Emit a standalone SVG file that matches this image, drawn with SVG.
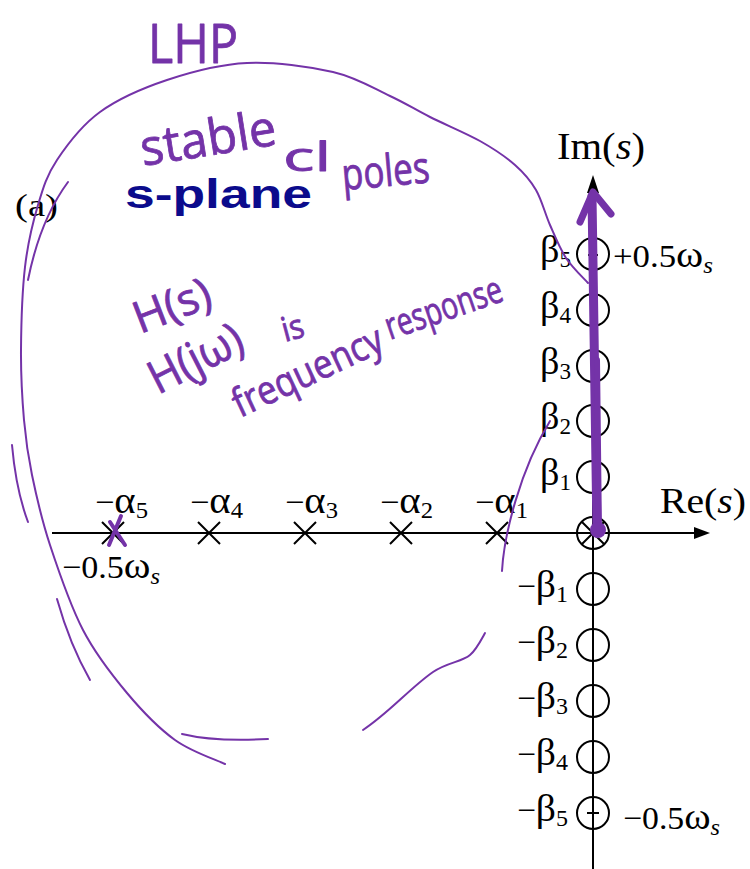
<svg xmlns="http://www.w3.org/2000/svg" width="750" height="869" viewBox="0 0 750 869">
<style>
.ax{stroke:#000;stroke-width:2;fill:none}
.ah{fill:#000;stroke:none}
.z{fill:none;stroke:#000;stroke-width:2}
.p{stroke:#000;stroke-width:2;fill:none}
.lb{font-family:"Liberation Serif","Times New Roman",serif;font-size:32px;fill:#000}
.gk{font-size:38px}
.sb{font-size:23px}
.it{font-style:italic}
.hw{font-family:"Open Sans","Noto Sans",sans-serif;fill:#7433a8;stroke:#7433a8;stroke-width:0.8;stroke-linejoin:round}
.pen{fill:none;stroke:#7433a8;stroke-width:2;stroke-linecap:round;stroke-linejoin:round}
.mk{fill:none;stroke:#7433a8;stroke-linecap:round;stroke-linejoin:round}
</style>
<rect width="750" height="869" fill="#fff"/>

<g id="axes">
  <line class="ax" x1="52" y1="533" x2="696" y2="533"/>
  <polygon class="ah" points="710,533 694,527 694,539"/>
  <line class="ax" x1="593" y1="191" x2="593" y2="869"/>
  <polygon class="ah" points="593,175 587,193 599,193"/>
</g>

<g id="poles">
  <path class="p" d="M102 522 l22 22 M124 522 l-22 22"/>
  <path class="p" d="M198 522 l22 22 M220 522 l-22 22"/>
  <path class="p" d="M294 522 l22 22 M316 522 l-22 22"/>
  <path class="p" d="M390 522 l22 22 M412 522 l-22 22"/>
  <path class="p" d="M486 522 l22 22 M508 522 l-22 22"/>
</g>

<g id="zeros">
  <circle class="z" cx="593" cy="254" r="16"/>
  <line class="ax" x1="588" y1="255" x2="598" y2="255"/>
  <circle class="z" cx="593" cy="310" r="16"/>
  <circle class="z" cx="593" cy="366" r="16"/>
  <circle class="z" cx="593" cy="421" r="16"/>
  <circle class="z" cx="593" cy="477" r="16"/>
  <circle class="z" cx="593" cy="533" r="16"/>
  <path class="p" d="M582 522 L604 544 M582 544 L604 522"/>
  <circle class="z" cx="593" cy="589" r="16"/>
  <circle class="z" cx="593" cy="645" r="16"/>
  <circle class="z" cx="593" cy="701" r="16"/>
  <circle class="z" cx="593" cy="757" r="16"/>
  <circle class="z" cx="593" cy="813" r="16"/>
  <line class="ax" x1="587" y1="813" x2="599" y2="813"/>
</g>

<g id="labels">
  <text class="lb" x="557" y="159" style="font-size:38px" textLength="88" lengthAdjust="spacingAndGlyphs">Im(<tspan class="it">s</tspan>)</text>
  <text class="lb" x="660" y="513" style="font-size:36px" textLength="86" lengthAdjust="spacingAndGlyphs">Re(<tspan class="it">s</tspan>)</text>
  <text class="lb" x="613" y="267" textLength="100" lengthAdjust="spacingAndGlyphs">+0.5<tspan class="gk">ω</tspan><tspan class="sb it" dy="6">s</tspan></text>
  <text class="lb" x="623" y="829" textLength="97" lengthAdjust="spacingAndGlyphs">−0.5<tspan class="gk">ω</tspan><tspan class="sb it" dy="6">s</tspan></text>
  <text class="lb" x="62" y="578" textLength="98" lengthAdjust="spacingAndGlyphs">−0.5<tspan class="gk">ω</tspan><tspan class="sb it" dy="6">s</tspan></text>

  <text class="lb" x="540" y="262" textLength="31" lengthAdjust="spacingAndGlyphs"><tspan class="gk">β</tspan><tspan class="sb" dy="5">5</tspan></text>
  <text class="lb" x="540" y="318" textLength="31" lengthAdjust="spacingAndGlyphs"><tspan class="gk">β</tspan><tspan class="sb" dy="5">4</tspan></text>
  <text class="lb" x="540" y="374" textLength="31" lengthAdjust="spacingAndGlyphs"><tspan class="gk">β</tspan><tspan class="sb" dy="5">3</tspan></text>
  <text class="lb" x="540" y="429" textLength="31" lengthAdjust="spacingAndGlyphs"><tspan class="gk">β</tspan><tspan class="sb" dy="5">2</tspan></text>
  <text class="lb" x="540" y="485" textLength="31" lengthAdjust="spacingAndGlyphs"><tspan class="gk">β</tspan><tspan class="sb" dy="5">1</tspan></text>

  <text class="lb" x="517" y="597" textLength="51" lengthAdjust="spacingAndGlyphs">−<tspan class="gk">β</tspan><tspan class="sb" dy="5">1</tspan></text>
  <text class="lb" x="517" y="653" textLength="51" lengthAdjust="spacingAndGlyphs">−<tspan class="gk">β</tspan><tspan class="sb" dy="5">2</tspan></text>
  <text class="lb" x="517" y="709" textLength="51" lengthAdjust="spacingAndGlyphs">−<tspan class="gk">β</tspan><tspan class="sb" dy="5">3</tspan></text>
  <text class="lb" x="517" y="765" textLength="51" lengthAdjust="spacingAndGlyphs">−<tspan class="gk">β</tspan><tspan class="sb" dy="5">4</tspan></text>
  <text class="lb" x="517" y="821" textLength="51" lengthAdjust="spacingAndGlyphs">−<tspan class="gk">β</tspan><tspan class="sb" dy="5">5</tspan></text>

  <text class="lb" x="95" y="513" textLength="53" lengthAdjust="spacingAndGlyphs">−<tspan class="gk">α</tspan><tspan class="sb" dy="5">5</tspan></text>
  <text class="lb" x="190" y="513" textLength="53" lengthAdjust="spacingAndGlyphs">−<tspan class="gk">α</tspan><tspan class="sb" dy="5">4</tspan></text>
  <text class="lb" x="285" y="513" textLength="53" lengthAdjust="spacingAndGlyphs">−<tspan class="gk">α</tspan><tspan class="sb" dy="5">3</tspan></text>
  <text class="lb" x="380" y="513" textLength="53" lengthAdjust="spacingAndGlyphs">−<tspan class="gk">α</tspan><tspan class="sb" dy="5">2</tspan></text>
  <text class="lb" x="475" y="513" textLength="53" lengthAdjust="spacingAndGlyphs">−<tspan class="gk">α</tspan><tspan class="sb" dy="5">1</tspan></text>

  <text class="lb" x="15" y="216" style="font-size:31px" textLength="43" lengthAdjust="spacingAndGlyphs">(a)</text>
  <text x="125" y="208" font-family="'Liberation Sans',Arial,sans-serif" font-weight="bold" font-size="40" fill="#0b0b8c" textLength="187" lengthAdjust="spacingAndGlyphs">s-plane</text>
</g>

<g id="annotations">
  <path class="pen" d="M588 283 C584.3 278.8 572.3 267.7 566 258 C559.7 248.3 555 236.3 550 225 C545 213.7 541.8 200 536 190 C530.2 180 524.3 173.2 515 165 C505.7 156.8 494.2 149 480 141 C465.8 133 445 124.5 430 117 C415 109.5 406.2 103.5 390 96 C373.8 88.5 356.8 77.5 333 72 C309.2 66.5 274.7 61.7 247 63 C219.3 64.3 191.5 71.8 167 80 C142.5 88.2 118.3 98.7 100 112 C81.7 125.3 67.3 144.5 57 160 C46.7 175.5 43.3 187.2 38 205 C32.7 222.8 27.8 242.8 25 267 C22.2 291.2 21.2 324.5 21 350 C20.8 375.5 22.2 399.2 24 420 C25.8 440.8 27.7 454.2 32 475 C36.3 495.8 41.5 519.2 50 545 C58.5 570.8 70.2 605.3 83 630 C95.8 654.7 111.7 674.7 127 693 C142.3 711.3 158.7 728.2 175 740 C191.3 751.8 216.7 760 225 764"/>
  <path class="pen" d="M68 182 Q40 220 28 280"/>
  <path class="pen" d="M12 445 Q16 490 28 522"/>
  <path class="pen" d="M57 599 Q70 645 90 680"/>
  <path class="pen" d="M182 734 Q215 742 268 739"/>
  <path class="pen" d="M363 730 C390 712 410 688 433 672 C448 662 462 662 470 655 C476 650 480 642 485 633"/>
  <path class="pen" d="M502 571 C504 535 520 470 550 421"/>

  <path class="mk" stroke-width="4" d="M110 522 L125 545 M121 516 L109 545"/>
  <path class="mk" stroke-width="9" d="M597 533 L592 196"/>
  <path class="mk" stroke-width="6" d="M599 533 L597 360"/>
  <circle cx="598" cy="530" r="8" fill="#7433a8"/>
  <path class="mk" stroke-width="7" d="M580 222 L593 192 L611 214"/>

  <text class="hw" x="148" y="63" font-size="54" textLength="90" lengthAdjust="spacingAndGlyphs">LHP</text>
  <text class="hw" x="143" y="166" font-size="50" textLength="137" lengthAdjust="spacingAndGlyphs" transform="rotate(-9 143 166)">stable</text>
  <text class="hw" x="283" y="171" font-size="40" textLength="48" lengthAdjust="spacingAndGlyphs">cl</text>
  <text class="hw" x="343" y="190" font-size="44" textLength="88" lengthAdjust="spacingAndGlyphs" transform="rotate(-5 343 190)">poles</text>
  <text class="hw" x="140" y="334" font-size="44" textLength="80" lengthAdjust="spacingAndGlyphs" transform="rotate(-21 140 334)">H(s)</text>
  <text class="hw" x="158" y="395" font-size="46" textLength="100" lengthAdjust="spacingAndGlyphs" transform="rotate(-27 158 395)">H(jω)</text>
  <text class="hw" x="285" y="342" font-size="34" textLength="22" lengthAdjust="spacingAndGlyphs" transform="rotate(-15 285 342)">is</text>
  <text class="hw" x="240" y="418" font-size="40" textLength="162" lengthAdjust="spacingAndGlyphs" transform="rotate(-25 240 418)">frequency</text>
  <text class="hw" x="390" y="340" font-size="38" textLength="122" lengthAdjust="spacingAndGlyphs" transform="rotate(-19 390 340)">response</text>
</g>
</svg>
